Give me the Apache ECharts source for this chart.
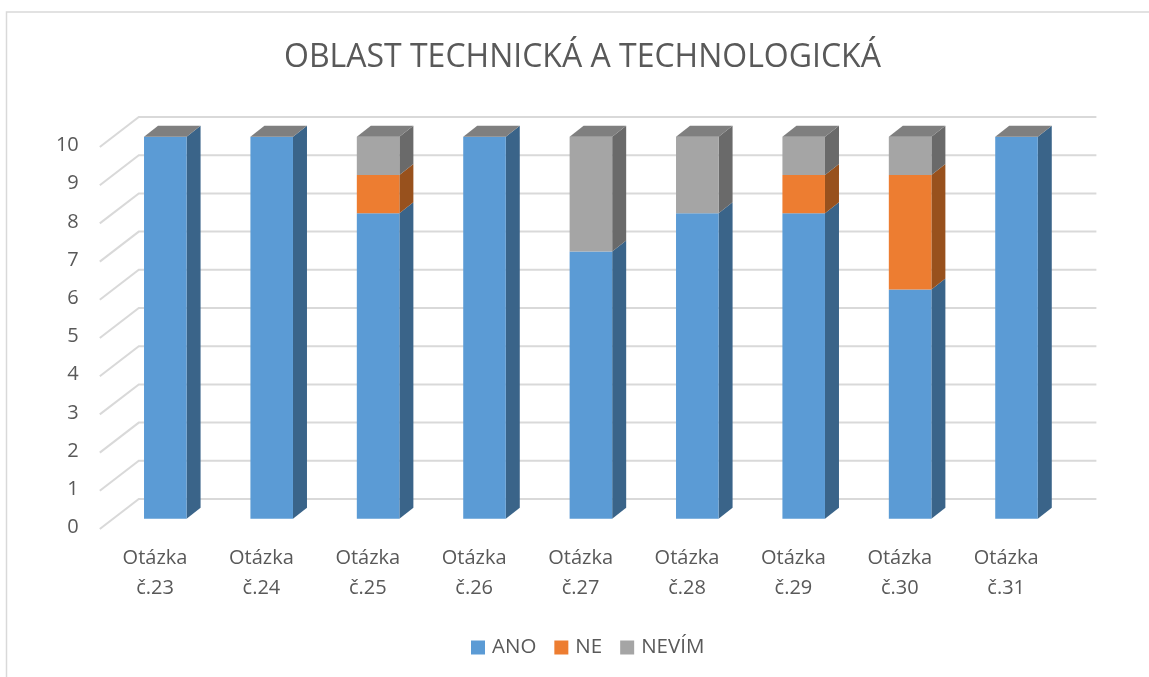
<!DOCTYPE html>
<html>
<head>
<meta charset="utf-8">
<style>html,body{margin:0;padding:0;background:#fff}#c{width:1149px;height:677px}</style>
<script src="https://cdn.jsdelivr.net/npm/echarts@6/dist/echarts.min.js"></script>
</head>
<body>
<div id="c"></div>
<script>
const categories = ['Otázka\nč.23','Otázka\nč.24','Otázka\nč.25','Otázka\nč.26','Otázka\nč.27','Otázka\nč.28','Otázka\nč.29','Otázka\nč.30','Otázka\nč.31'];
const ano   = [10,10,8,10,7,8,8,6,10];
const ne    = [0,0,1,0,0,0,1,3,0];
const nevim = [0,0,1,0,3,2,1,1,0];
const ticks = [0,1,2,3,4,5,6,7,8,9,10];

const FONT = '"Open Sans", sans-serif';
const TEXT = '#595959';
// projection of the pseudo-3D scene, relative to the axis plane
const FRONT = {x: 10.3, y: -8.7};
const DEPTH = {x: 14, y: -11};
const WALL  = {x: 37, y: -28.5};
const BAR_RATIO = 0.4;

function wallItem(params, api) {
  const cs = params.coordSys;
  const p = api.coord([0, api.value(1)]);
  const y = p[1];
  return {
    type: 'polyline',
    silent: true,
    shape: {points: [[cs.x - 2, y + 1.5], [cs.x + WALL.x, y + WALL.y], [cs.x + cs.width + WALL.x, y + WALL.y]]},
    style: {stroke: '#d9d9d9', lineWidth: 2, fill: null}
  };
}

function barRenderer(front, side, drawTop) {
  return function (params, api) {
    const idx = api.value(0);
    const lo = api.coord([idx, api.value(1)]);
    const hi = api.coord([idx, api.value(2)]);
    const w = api.size([1, 0])[0] * BAR_RATIO;
    const x0 = lo[0] - w / 2 + FRONT.x, x1 = x0 + w;
    const yb = lo[1] + FRONT.y, yt = hi[1] + FRONT.y;
    const children = [];
    if (yb - yt > 0.01) {
      children.push({type: 'polygon', shape: {points: [[x1, yb], [x1 + DEPTH.x, yb + DEPTH.y], [x1 + DEPTH.x, yt + DEPTH.y], [x1, yt]]}, style: {fill: side}});
      children.push({type: 'rect', shape: {x: x0, y: yt, width: w, height: yb - yt}, style: {fill: front}});
    }
    if (drawTop) {
      children.push({type: 'polygon', shape: {points: [[x0, yt], [x0 + DEPTH.x, yt + DEPTH.y], [x1 + DEPTH.x, yt + DEPTH.y], [x1, yt]]}, style: {fill: '#7f7f7f'}});
    }
    return {type: 'group', children};
  };
}

const rows = (vals, below) => vals.map((v, i) => [i, below[i], below[i] + v]);
const zero = ano.map(() => 0);
const b2 = ano;
const b3 = ano.map((v, i) => v + ne[i]);

const chart = echarts.init(document.getElementById('c'), null, {renderer: 'canvas'});
chart.setOption({
  backgroundColor: '#fff',
  animation: false,
  title: {
    text: 'OBLAST TECHNICKÁ A TECHNOLOGICKÁ',
    left: 279, top: 37,
    textStyle: {fontFamily: FONT, fontSize: 32, fontWeight: 'normal', color: TEXT}
  },
  grid: {left: 101.8, top: 145.5, width: 957.6, height: 382, containLabel: false},
  legend: {
    data: ['ANO', 'NE', 'NEVÍM'],
    left: 471, top: 637, padding: 0,
    itemWidth: 14, itemHeight: 14, itemGap: 18,
    icon: 'rect',
    textStyle: {fontFamily: FONT, fontSize: 20.5, color: TEXT, padding: [0, 0, 0, 2]}
  },
  xAxis: {
    type: 'category', data: categories,
    axisLine: {show: false}, axisTick: {show: false}, splitLine: {show: false},
    axisLabel: {fontFamily: FONT, fontSize: 20, color: TEXT, lineHeight: 30, margin: 16, interval: 0}
  },
  yAxis: {
    type: 'value', min: 0, max: 10, interval: 1,
    axisLine: {show: false}, axisTick: {show: false}, splitLine: {show: false},
    axisLabel: {fontFamily: FONT, fontSize: 20, color: TEXT, margin: 23, padding: [4, 0, 0, 0]}
  },
  graphic: [
    {type: 'polyline', silent: true, shape: {points: [[6.5, 677], [6.5, 12], [1149, 12]]}, style: {stroke: '#d9d9d9', lineWidth: 1.5, fill: null}}
  ],
  series: [
    {type: 'custom', name: 'wall', silent: true, clip: false, z: 1, renderItem: wallItem, data: ticks.map(t => [0, t]), encode: {x: 0, y: 1}},
    {type: 'custom', name: 'ANO', clip: false, z: 2, itemStyle: {color: '#5b9bd5'}, renderItem: barRenderer('#5b9bd5', '#3a6489', false), data: rows(ano, zero), encode: {x: 0, y: [1, 2]}},
    {type: 'custom', name: 'NE', clip: false, z: 3, itemStyle: {color: '#ed7d31'}, renderItem: barRenderer('#ed7d31', '#98511d', false), data: rows(ne, b2), encode: {x: 0, y: [1, 2]}},
    {type: 'custom', name: 'NEVÍM', clip: false, z: 4, itemStyle: {color: '#a5a5a5'}, renderItem: barRenderer('#a5a5a5', '#6a6a6a', true), data: rows(nevim, b3), encode: {x: 0, y: [1, 2]}}
  ]
});
</script>
</body>
</html>
